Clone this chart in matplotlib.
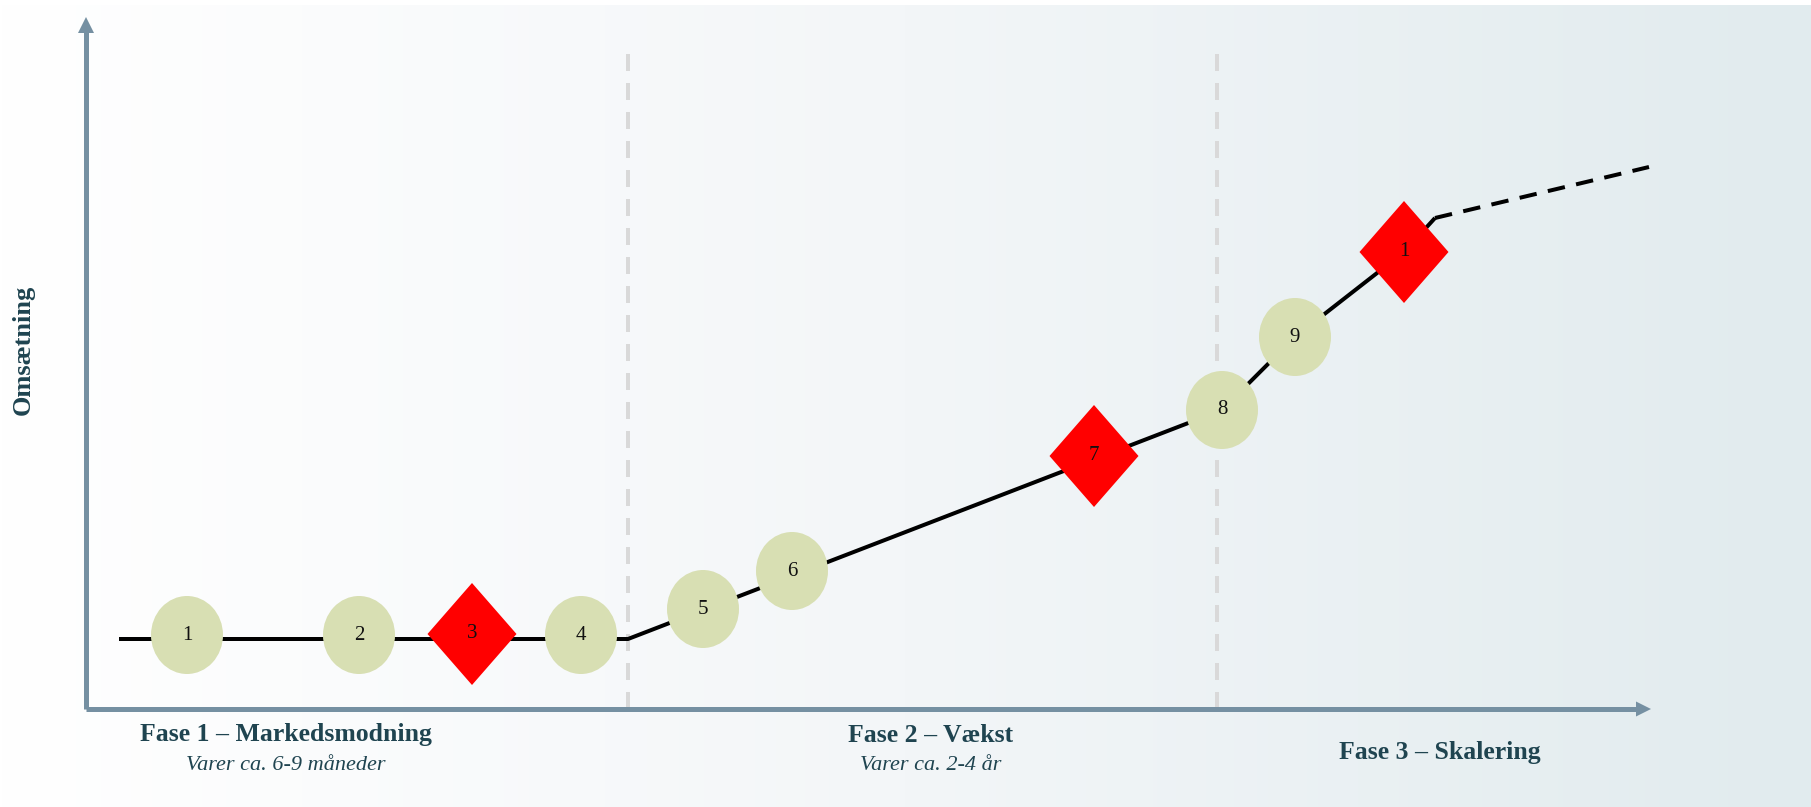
import numpy as np
import matplotlib
matplotlib.use("Agg")
import matplotlib.pyplot as plt
from matplotlib.patches import Ellipse, Polygon
from matplotlib.colors import LinearSegmentedColormap

# ---- data (time units / revenue units measured from the axis origin) ----
milestone_labels = ["1", "2", "3", "4", "5", "6", "7", "8", "9", "1"]
milestone_x = [101, 273, 386, 495, 617, 706, 1008, 1136, 1209, 1318]
milestone_y = [74, 74, 75, 74, 100, 138, 253, 299, 372, 457]
milestone_kind = ["circle", "circle", "diamond", "circle", "circle", "circle",
                  "diamond", "circle", "circle", "diamond"]

revenue_x = [33, 542, 1136, 1209, 1318, 1349]
revenue_y = [70, 70, 299, 372, 457, 491]
forecast_x = [1349, 1563]
forecast_y = [491, 542]

phase_bounds = [542, 1131]
phase_titles = ["Fase 1 – Markedsmodning", "Fase 2 – Vækst", "Fase 3 – Skalering"]
phase_subtitles = ["Varer ca. 6-9 måneder", "Varer ca. 2-4 år", ""]
phase_title_x = [200, 845, 1354]
y_label = "Omsætning"

# ---- style ----
W, H = 1811, 807
ox, oy = 86, 709          # axis origin in pixels
axis_col = "#7590a2"
text_col = "#1f4450"
circle_col = "#d8dfb3"
diamond_col = "#ff0000"

fig = plt.figure(figsize=(W / 100, H / 100), dpi=100)
ax = fig.add_axes([0, 0, 1, 1])
ax.set_xlim(-ox, W - ox)
ax.set_ylim(oy - H, oy)
ax.set_aspect("auto")
ax.axis("off")

# background gradient
cmap = LinearSegmentedColormap.from_list("bg", ["#ffffff", "#f3f6f8", "#e1ebee"], N=1024)
grad = np.linspace(0, 1, 2048).reshape(1, -1)
ax.imshow(grad, cmap=cmap, aspect="auto",
          extent=(-ox, W - ox, oy - H, oy - 5), zorder=0, interpolation="nearest")

px2pt = 72 / 100

# phase separators
for xb in phase_bounds:
    lw = 4 * px2pt
    ln, = ax.plot([xb, xb], [0, 657], color="#d9d9d9", lw=lw, zorder=1)
    ln.set_dashes((17 * px2pt / lw, 12 * px2pt / lw))

# axes with arrows
alw = 5 * px2pt
ax.plot([0, 0], [0, 692 - 15], color=axis_col, lw=alw, zorder=2, solid_capstyle="butt")
ax.add_patch(Polygon([[-8, 676], [8, 676], [0, 692]], closed=True, color=axis_col, zorder=2, lw=0))
ax.plot([0, 1550], [0, 0], color=axis_col, lw=alw, zorder=2, solid_capstyle="butt")
ax.add_patch(Polygon([[1550, 7.5], [1550, -7.5], [1565, 0]], closed=True, color=axis_col, zorder=2, lw=0))

# revenue line
llw = 4 * px2pt
ax.plot(revenue_x, revenue_y, color="black", lw=llw, zorder=3,
        solid_joinstyle="round", solid_capstyle="butt")
fl, = ax.plot(forecast_x, forecast_y, color="black", lw=llw, zorder=3)
fl.set_dashes((17.5 * px2pt / llw, 11.5 * px2pt / llw))

# milestones
for lab, x, y, kind in zip(milestone_labels, milestone_x, milestone_y, milestone_kind):
    if kind == "circle":
        ax.add_patch(Ellipse((x, y), 72, 78, facecolor=circle_col, edgecolor="none", zorder=4))
    else:
        hw, hh = 44.5, 51
        ax.add_patch(Polygon([[x - hw, y], [x, y + hh], [x + hw, y], [x, y - hh]],
                             closed=True, facecolor=diamond_col, edgecolor="none", zorder=4))
    ax.text(x, y, lab, ha="center", va="center", fontsize=15,
            family="Liberation Serif", color="#111111", zorder=5)

# labels
ax.text(-63, 359, y_label, rotation=90, ha="center", va="center", fontsize=19,
        family="Liberation Serif", fontweight="bold", color=text_col)
for t, s, x in zip(phase_titles, phase_subtitles, phase_title_x):
    if s:
        ax.text(x, -26, t, ha="center", va="center", fontsize=18.5,
                family="Liberation Serif", fontweight="bold", color=text_col)
        ax.text(x, -56, s, ha="center", va="center", fontsize=16,
                family="Liberation Serif", style="italic", color=text_col)
    else:
        ax.text(x, -44, t, ha="center", va="center", fontsize=18.5,
                family="Liberation Serif", fontweight="bold", color=text_col)

fig.savefig("out.png", dpi=100)
